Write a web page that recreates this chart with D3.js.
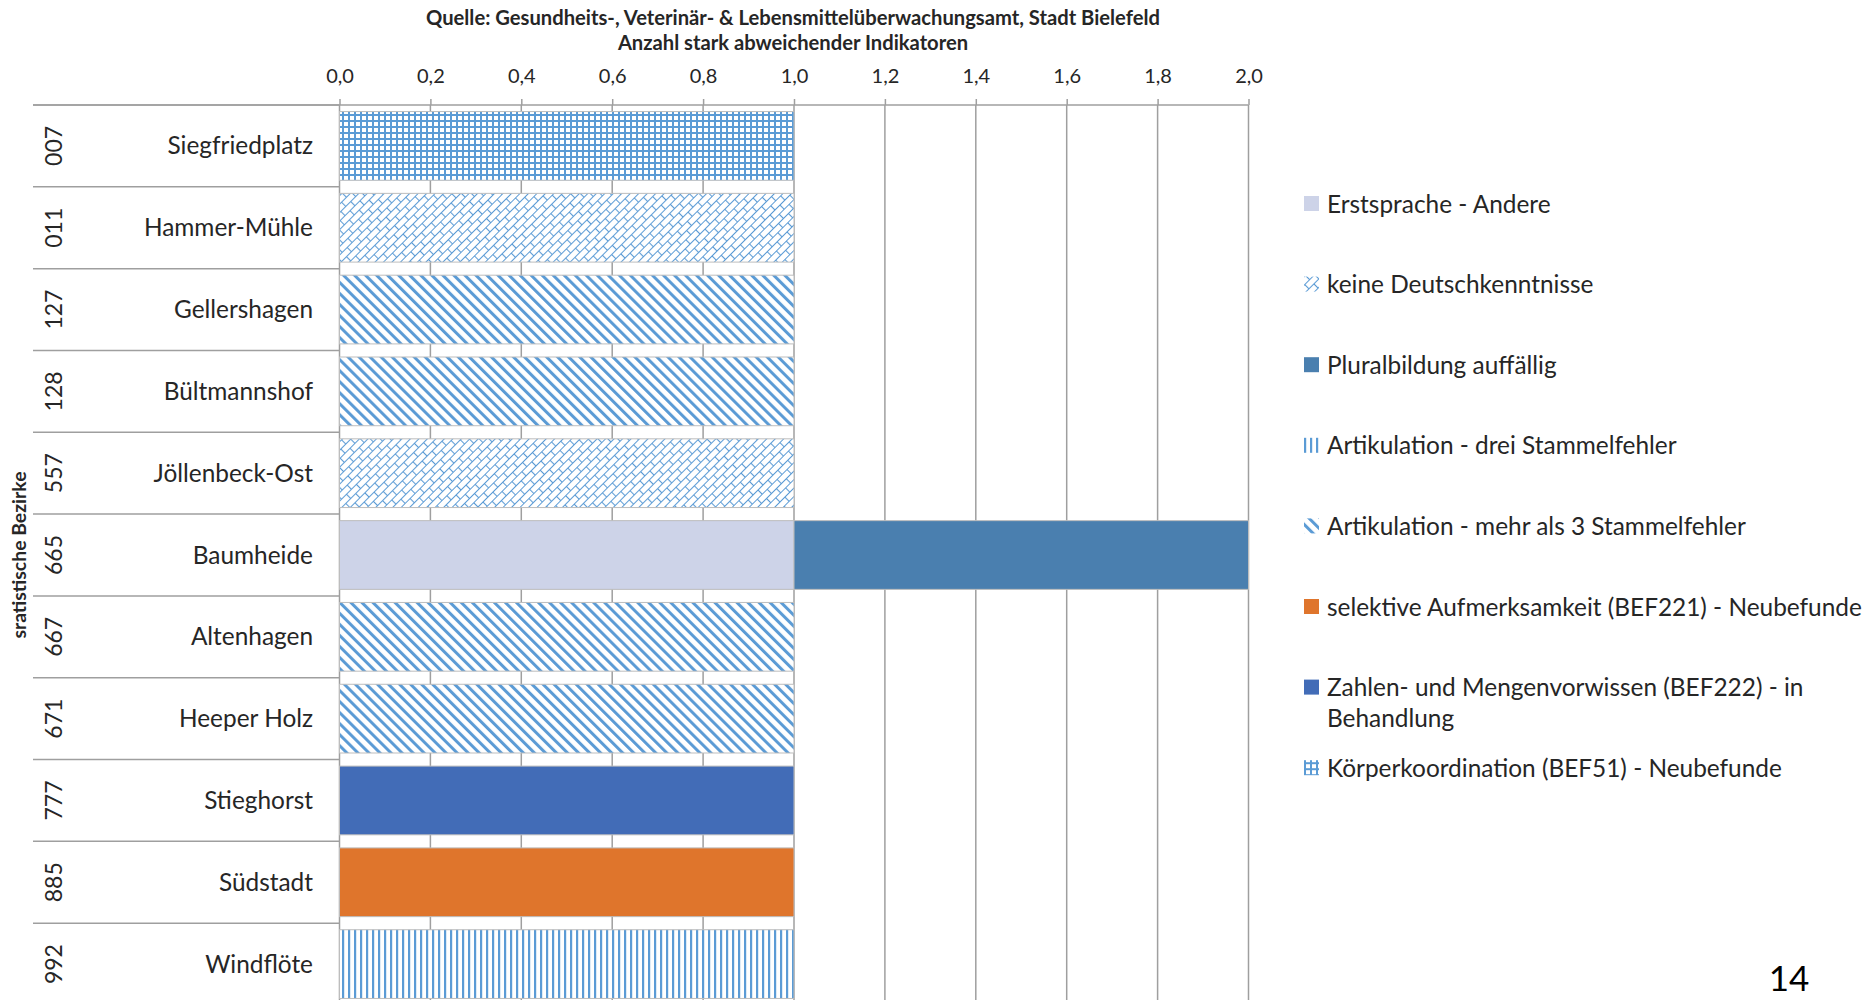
<!DOCTYPE html>
<html>
<head>
<meta charset="utf-8">
<script src="https://cdn.jsdelivr.net/npm/d3@7"></script>
<style>
  body { margin: 0; background: #fff; }
  text { font-family: Lato, "Open Sans", sans-serif; fill: #262626; }
</style>
</head>
<body>
<div class="chart"></div>
<script>
        //Width and height
        var w = 1868;
        var h = 1000;

        // data
        var codes = ["007", "011", "127", "128", "557", "665", "667", "671", "777", "885", "992"];
        var names = ["Siegfriedplatz", "Hammer-Mühle", "Gellershagen", "Bültmannshof", "Jöllenbeck-Ost",
                     "Baumheide", "Altenhagen", "Heeper Holz", "Stieghorst", "Südstadt", "Windflöte"];
        var series = ["Erstsprache - Andere", "keine Deutschkenntnisse", "Pluralbildung auffällig",
                      "Artikulation - drei Stammelfehler", "Artikulation - mehr als 3 Stammelfehler",
                      "selektive Aufmerksamkeit (BEF221) - Neubefunde",
                      "Zahlen- und Mengenvorwissen (BEF222) - in Behandlung",
                      "Körperkoordination (BEF51) - Neubefunde"];
        // one row per series, one value per district
        var erstsprache   = [0, 0, 0, 0, 0, 1, 0, 0, 0, 0, 0];
        var keineDeutsch  = [0, 1, 0, 0, 1, 0, 0, 0, 0, 0, 0];
        var plural        = [0, 0, 0, 0, 0, 1, 0, 0, 0, 0, 0];
        var artDrei       = [0, 0, 0, 0, 0, 0, 0, 0, 0, 0, 1];
        var artMehr       = [0, 0, 1, 1, 0, 0, 1, 1, 0, 0, 0];
        var selektiv      = [0, 0, 0, 0, 0, 0, 0, 0, 0, 1, 0];
        var zahlen        = [0, 0, 0, 0, 0, 0, 0, 0, 1, 0, 0];
        var koerper       = [1, 0, 0, 0, 0, 0, 0, 0, 0, 0, 0];
        var values = [erstsprache, keineDeutsch, plural, artDrei, artMehr, selektiv, zahlen, koerper];
        var xTicks = [0, 0.2, 0.4, 0.6, 0.8, 1.0, 1.2, 1.4, 1.6, 1.8, 2.0];

        var fills = ["#cdd3e8", "url(#brick)", "#4a7faf", "url(#vert)", "url(#diag)",
                     "#df752c", "#426cb7", "url(#grid)"];
        var hatch = "#5b9bd5";

        var xScale = d3.scaleLinear()
                        .domain([0, 2])
                        .range([339.5, 1248.5]);

        var yScale = d3.scaleBand()
                        .domain(codes)
                        .range([105, 1005])
                        .paddingInner(0.16)
                        .paddingOuter(0.08);

        //Create SVG element
        var svg = d3.select("div.chart")
                    .append("svg")
                    .attr("width", w)
                    .attr("height", h);

        // patterns
        var defs = svg.append("defs");

        var p = defs.append("pattern").attr("id", "grid")
            .attr("patternUnits", "userSpaceOnUse").attr("width", 6).attr("height", 6);
        p.append("rect").attr("width", 6).attr("height", 6).attr("fill", "#fff");
        p.append("rect").attr("x", 0).attr("y", 0).attr("width", 2).attr("height", 6).attr("fill", hatch);
        p.append("rect").attr("x", 0).attr("y", 0).attr("width", 6).attr("height", 2).attr("fill", hatch);

        p = defs.append("pattern").attr("id", "vert")
            .attr("patternUnits", "userSpaceOnUse").attr("width", 6).attr("height", 6);
        p.append("rect").attr("width", 6).attr("height", 6).attr("fill", "#fff");
        p.append("rect").attr("x", 0).attr("width", 2.2).attr("height", 6).attr("fill", hatch);

        p = defs.append("pattern").attr("id", "diag")
            .attr("patternUnits", "userSpaceOnUse").attr("width", 7.8).attr("height", 7.8)
            .attr("patternTransform", "rotate(-45)");
        p.append("rect").attr("width", 7.8).attr("height", 7.8).attr("fill", "#fff");
        p.append("rect").attr("x", 0).attr("width", 3).attr("height", 7.8).attr("fill", hatch);

        p = defs.append("pattern").attr("id", "brick")
            .attr("patternUnits", "userSpaceOnUse").attr("width", 14).attr("height", 12)
            .attr("patternTransform", "rotate(-45)");
        p.append("rect").attr("width", 14).attr("height", 12).attr("fill", "#fff");
        p.append("path")
            .attr("d", "M0,0.5H14M0,6.5H14M0.5,0V6M7.5,6V12")
            .attr("stroke", hatch).attr("stroke-width", 1.1).attr("fill", "none");

        // gridlines
        svg.selectAll("line.grid")
           .data(xTicks)
           .enter()
           .append("line")
           .attr("class", "grid")
           .attr("x1", function(d) { return xScale(d); })
           .attr("x2", function(d) { return xScale(d); })
           .attr("y1", 105)
           .attr("y2", h)
           .attr("stroke", "#9f9f9f")
           .attr("stroke-width", 1.5);

        // row separators on the category side
        svg.selectAll("line.sep")
           .data(d3.range(codes.length + 1))
           .enter()
           .append("line")
           .attr("class", "sep")
           .attr("x1", 33)
           .attr("x2", xScale(0))
           .attr("y1", function(i) { return 105 + i * yScale.step(); })
           .attr("y2", function(i) { return 105 + i * yScale.step(); })
           .attr("stroke", "#9f9f9f")
           .attr("stroke-width", 1.5);

        // stacked bars
        var stackData = codes.map(function(c, i) {
            var row = { code: c };
            series.forEach(function(s, k) { row[s] = values[k][i]; });
            return row;
        });
        var stacked = d3.stack().keys(series)(stackData);

        svg.selectAll("g.layer")
           .data(stacked)
           .enter()
           .append("g")
           .attr("class", "layer")
           .attr("fill", function(d, k) { return fills[k]; })
           .selectAll("rect")
           .data(function(d) { return d.filter(function(v) { return v[1] > v[0]; }); })
           .enter()
           .append("rect")
           .attr("x", function(d) { return xScale(d[0]); })
           .attr("y", function(d) { return yScale(d.data.code); })
           .attr("width", function(d) { return xScale(d[1]) - xScale(d[0]); })
           .attr("height", yScale.bandwidth())
           .attr("stroke", "#bdbdbd")
           .attr("stroke-width", 1);

        // top axis
        var x_axis = d3.axisTop()
            .scale(xScale)
            .tickValues(xTicks)
            .tickSize(6)
            .tickPadding(16)
            .tickFormat(function(d) { return d3.format(".1f")(d).replace(".", ","); });

        var ax = svg.append("g")
            .attr("transform", "translate(0,105)")
            .call(x_axis);
        ax.select(".domain").remove();
        ax.selectAll(".tick line").attr("stroke", "#9f9f9f").attr("stroke-width", 1.5);
        ax.selectAll(".tick text")
            .attr("font-family", "Lato, sans-serif")
            .attr("font-size", "20px")
            .attr("fill", "#262626");

        svg.append("line")
            .attr("x1", 33).attr("x2", xScale(2))
            .attr("y1", 105).attr("y2", 105)
            .attr("stroke", "#9f9f9f")
            .attr("stroke-width", 1.5);

        // category labels
        svg.selectAll("text.name")
           .data(names)
           .enter()
           .append("text")
           .attr("class", "name")
           .attr("x", 313)
           .attr("y", function(d, i) { return yScale(codes[i]) + yScale.bandwidth() / 2; })
           .attr("dy", "0.35em")
           .attr("text-anchor", "end")
           .attr("font-size", "24.4px")
           .text(function(d) { return d; });

        svg.selectAll("text.code")
           .data(codes)
           .enter()
           .append("text")
           .attr("class", "code")
           .attr("transform", function(d) {
                return "translate(54," + (yScale(d) + yScale.bandwidth() / 2) + ") rotate(-90)";
           })
           .attr("dy", "0.35em")
           .attr("text-anchor", "middle")
           .attr("font-size", "23px")
           .text(function(d) { return d; });

        // axis title
        svg.append("text")
            .attr("transform", "translate(19,555) rotate(-90)")
            .attr("dy", "0.35em")
            .attr("text-anchor", "middle")
            .attr("font-size", "19.4px")
            .attr("font-weight", "bold")
            .text("sratistische Bezirke");

        // titles
        svg.append("text")
            .attr("x", 793).attr("y", 25)
            .attr("text-anchor", "middle")
            .attr("font-size", "20.2px")
            .attr("font-weight", "bold")
            .text("Quelle: Gesundheits-, Veterinär- & Lebensmittelüberwachungsamt, Stadt Bielefeld");
        svg.append("text")
            .attr("x", 793).attr("y", 50)
            .attr("text-anchor", "middle")
            .attr("font-size", "20.2px")
            .attr("font-weight", "bold")
            .text("Anzahl stark abweichender Indikatoren");

        // legend
        var legend = svg.selectAll("g.legend")
            .data(series)
            .enter()
            .append("g")
            .attr("class", "legend")
            .attr("transform", function(d, i) { return "translate(1304," + (204 + i * 80.6) + ")"; });

        legend.append("rect")
            .attr("x", 0).attr("y", -8)
            .attr("width", 15).attr("height", 15)
            .attr("fill", function(d, i) { return fills[i]; });

        legend.append("text")
            .attr("x", 23)
            .attr("font-size", "24.4px")
            .each(function(d) {
                var parts = d === series[6] ? ["Zahlen- und Mengenvorwissen (BEF222) - in", "Behandlung"] : [d];
                var t = d3.select(this);
                parts.forEach(function(line, j) {
                    t.append("tspan").attr("x", 23).attr("dy", j === 0 ? "0.35em" : "31px").text(line);
                });
            });

        // page number
        svg.append("text")
            .attr("x", 1789).attr("y", 991)
            .attr("text-anchor", "middle")
            .attr("font-family", "Liberation Sans, Arial, sans-serif")
            .attr("font-size", "35px")
            .style("fill", "#000")
            .text("14");
</script>
</body>
</html>
